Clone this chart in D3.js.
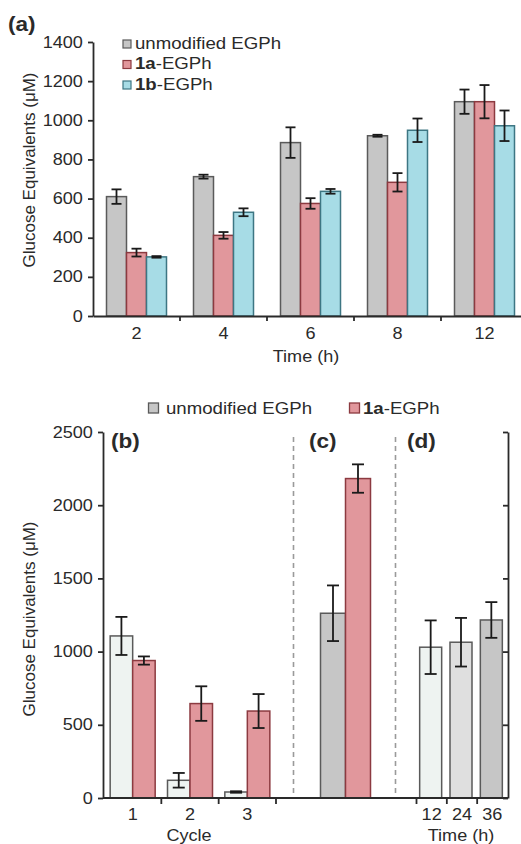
<!DOCTYPE html>
<html><head><meta charset="utf-8">
<script src="https://cdn.jsdelivr.net/npm/d3@7"></script>
<style>
body{margin:0;background:#fff;}
svg{display:block;font-family:"Liberation Sans",Arial,sans-serif;}
</style></head>
<body><svg id="c" width="521" height="844"></svg>
<script>
// ---------- data ----------
const timesA = ["2","4","6","8","12"];
const seriesA = ["unmodified EGPh","1a-EGPh","1b-EGPh"];
const unmodA = [610, 712, 886, 921, 1095];
const unmodAErr = [37, 10, 78, 5, 62];
const e1aA = [324, 412, 575, 683, 1095];
const e1aAErr = [20, 17, 27, 47, 85];
const e1bA = [302, 530, 637, 949, 972];
const e1bAErr = [4, 20, 12, 60, 78];
const yTicksA = [0,200,400,600,800,1000,1200,1400];

const cycles = ["1","2","3"];
const unmodB = [1107, 121, 41];
const unmodBErr = [130, 50, 5];
const e1aB = [939, 645, 594];
const e1aBErr = [28, 118, 116];

const groupC = ["c"];
const unmodC = [1262];
const unmodCErr = [190];
const e1aC = [2182];
const e1aCErr = [97];

const timesD = ["12","24","36"];
const unmodD = [1030, 1064, 1216];
const unmodDErr = [183, 166, 122];
const yTicksB = [0,500,1000,1500,2000,2500];

// ---------- style ----------
const SX = 1.13;
const C = {
  gray:"#c6c6c6", grayS:"#5a5a5a",
  red:"#e1979c", redS:"#8c3a40",
  blue:"#a7dce6", blueS:"#3d7683",
  light:"#eef3f1", mid:"#dfdfdf",
  axis:"#2a2a2a", text:"#2a2a2a"
};
const svg = d3.select("#c");
const fmt = d3.format("d");

function txt(g, x, y, parts, size, anchor, weight){
  const t = g.append("text")
    .attr("transform", `translate(${x},${y}) scale(${SX},1)`)
    .attr("font-size", size).attr("fill", C.text)
    .attr("text-anchor", anchor || "start");
  (Array.isArray(parts)?parts:[[parts, weight||"normal"]]).forEach(p=>{
    t.append("tspan").attr("font-weight", p[1]).text(p[0]);
  });
  return t;
}
function styleAxis(g, size){
  g.selectAll("path,line").attr("stroke", C.axis).attr("stroke-width", 1.8);
  g.selectAll("text").attr("font-size", size).attr("fill", C.text)
    .attr("font-family", '"Liberation Sans",Arial,sans-serif')
    .attr("transform", `scale(${SX},1)`);
}
function bars(g, data, x, w, y, fill, stroke){
  g.selectAll(null).data(data).enter().append("rect")
    .attr("x", d => x(d) - w/2).attr("width", w)
    .attr("y", d => y(d.v)).attr("height", d => y(0) - y(d.v))
    .attr("fill", d => d.fill || fill).attr("stroke", stroke).attr("stroke-width", 1.5);
}
function errs(g, data, x, y, cap){
  const e = g.selectAll(null).data(data).enter().append("g")
    .attr("stroke", "#1a1a1a").attr("stroke-width", 1.8);
  e.append("line").attr("x1", d=>x(d)).attr("x2", d=>x(d))
    .attr("y1", d=>y(d.v+d.e)).attr("y2", d=>y(d.v-d.e));
  e.append("line").attr("x1", d=>x(d)-cap/2).attr("x2", d=>x(d)+cap/2)
    .attr("y1", d=>y(d.v+d.e)).attr("y2", d=>y(d.v+d.e));
  e.append("line").attr("x1", d=>x(d)-cap/2).attr("x2", d=>x(d)+cap/2)
    .attr("y1", d=>y(d.v-d.e)).attr("y2", d=>y(d.v-d.e));
}

// ================= Panel (a) =================
const xA = d3.scaleBand().domain(timesA).range([93, 528]);
const xA1 = d3.scaleBand().domain(seriesA)
  .range([xA.bandwidth()/2 - 30, xA.bandwidth()/2 + 30]);
const yA = d3.scaleLinear().domain([0, 1400]).range([316, 42]);
const gA = svg.append("g");
const colsA = [[unmodA, unmodAErr, C.gray, C.grayS],[e1aA, e1aAErr, C.red, C.redS],[e1bA, e1bAErr, C.blue, C.blueS]];
colsA.forEach((c, si) => {
  const data = timesA.map((t,i)=>({t, s: seriesA[si], v: c[0][i], e: c[1][i]}));
  const cx = d => xA(d.t) + xA1(d.s) + xA1.bandwidth()/2;
  bars(gA, data, cx, xA1.bandwidth(), yA, c[2], c[3]);
  errs(gA, data, cx, yA, 10);
});
const axA = gA.append("g").attr("transform","translate(93,0)")
  .call(d3.axisLeft(yA).tickValues(yTicksA).tickFormat(fmt).tickSize(5).tickPadding(4).tickSizeOuter(0));
styleAxis(axA, 16);
const axAb = gA.append("g").attr("transform","translate(0,316)")
  .call(d3.axisBottom(xA).tickSize(0).tickPadding(12).tickSizeOuter(0));
styleAxis(axAb, 16);
gA.selectAll(null).data(timesA.slice(1)).enter().append("line")
  .attr("x1", d=>xA(d)).attr("x2", d=>xA(d)).attr("y1",316).attr("y2",321)
  .attr("stroke", C.axis).attr("stroke-width", 1.8);
txt(gA, 306, 362, "Time (h)", 16, "middle");
gA.append("text").attr("transform","translate(35,170) rotate(-90)")
  .attr("text-anchor","middle").attr("font-size",17).attr("fill",C.text)
  .text("Glucose Equivalents (μM)");
txt(gA, 8, 31, "(a)", 20, "start", "bold");
// legend (a)
const legA = [[C.gray,C.grayS,[["unmodified EGPh","normal"]]],
              [C.red,C.redS,[["1a","bold"],["-EGPh","normal"]]],
              [C.blue,C.blueS,[["1b","bold"],["-EGPh","normal"]]]];
legA.forEach((l,i)=>{
  const y = 48.5 + i*20.5;
  gA.append("rect").attr("x",123).attr("y",y-8.5).attr("width",8).attr("height",8)
    .attr("fill",l[0]).attr("stroke",l[1]).attr("stroke-width",1.2);
  txt(gA, 135, y, l[2], 16.5, "start");
});

// ================= Panels (b)(c)(d) =================
const yB = d3.scaleLinear().domain([0, 2500]).range([798, 432]);
const gB = svg.append("g");
const xLeft = 103, xRight = 508;

// (b)
const xB = d3.scaleBand().domain(cycles).range([104, 276]);
const wB = 22.5;
const dataBu = cycles.map((c,i)=>({c, v: unmodB[i], e: unmodBErr[i]}));
const dataBr = cycles.map((c,i)=>({c, v: e1aB[i], e: e1aBErr[i]}));
const cxBu = d => xB(d.c) + xB.bandwidth()/2 - wB/2;
const cxBr = d => xB(d.c) + xB.bandwidth()/2 + wB/2;
bars(gB, dataBu, cxBu, wB, yB, C.light, C.grayS);
bars(gB, dataBr, cxBr, wB, yB, C.red, C.redS);
errs(gB, dataBu, cxBu, yB, 12);
errs(gB, dataBr, cxBr, yB, 12);

// (c)
const xC = d3.scaleBand().domain(groupC).range([296, 394]);
const wC = 25;
const dataCu = groupC.map((c,i)=>({c, v: unmodC[i], e: unmodCErr[i]}));
const dataCr = groupC.map((c,i)=>({c, v: e1aC[i], e: e1aCErr[i]}));
const cxCu = d => xC(d.c) + xC.bandwidth()/2 - wC/2 + 0.5;
const cxCr = d => xC(d.c) + xC.bandwidth()/2 + wC/2 + 0.5;
bars(gB, dataCu, cxCu, wC, yB, C.gray, C.grayS);
bars(gB, dataCr, cxCr, wC, yB, C.red, C.redS);
errs(gB, dataCu, cxCu, yB, 12);
errs(gB, dataCr, cxCr, yB, 12);

// (d)
const xD = d3.scaleBand().domain(timesD).range([416.5, 507.5]);
const dFills = [C.light, C.mid, C.gray];
const dataD = timesD.map((t,i)=>({t, v: unmodD[i], e: unmodDErr[i], fill: dFills[i]}));
const cxD = d => xD(d.t) + xD.bandwidth()/2 - 1;
bars(gB, dataD, cxD, 22, yB, C.gray, C.grayS);
errs(gB, dataD, cxD, yB, 12);

// dashed separators
[293.5, 395.5].forEach(x=>{
  gB.append("line").attr("x1",x).attr("x2",x).attr("y1",437).attr("y2",797)
    .attr("stroke","#9a9a9a").attr("stroke-width",1.6).attr("stroke-dasharray","5,4");
});

// axes
const axBl = gB.append("g").attr("transform",`translate(${xLeft},0)`)
  .call(d3.axisLeft(yB).tickValues(yTicksB).tickFormat(fmt).tickSize(5).tickPadding(4).tickSizeOuter(0));
styleAxis(axBl, 16);
const axBr = gB.append("g").attr("transform",`translate(${xRight},0)`)
  .call(d3.axisLeft(yB).tickValues(yTicksB).tickFormat("").tickSize(5).tickSizeOuter(0));
axBr.selectAll(".tick line").attr("x2", -5);
styleAxis(axBr, 16);
gB.append("line").attr("x1",xLeft).attr("x2",xRight).attr("y1",798).attr("y2",798)
  .attr("stroke",C.axis).attr("stroke-width",1.8);
const axBb = gB.append("g").attr("transform","translate(0,798)")
  .call(d3.axisBottom(xB).tickSize(0).tickPadding(11).tickSizeOuter(0));
axBb.select(".domain").remove();
styleAxis(axBb, 16);
gB.selectAll(null).data(cycles.slice(1).map(c=>xB(c)).concat([xB.range()[1]])).enter().append("line")
  .attr("x1", d=>d).attr("x2", d=>d).attr("y1",798).attr("y2",804)
  .attr("stroke", C.axis).attr("stroke-width", 1.8);
const axDb = gB.append("g").attr("transform","translate(0,798)")
  .call(d3.axisBottom(xD).tickSize(0).tickPadding(11).tickSizeOuter(0));
axDb.select(".domain").remove();
styleAxis(axDb, 16);
gB.selectAll(null).data(timesD.map(t=>xD(t))).enter().append("line")
  .attr("x1", d=>d).attr("x2", d=>d).attr("y1",798).attr("y2",804)
  .attr("stroke", C.axis).attr("stroke-width", 1.8);

txt(gB, 189, 841, "Cycle", 16, "middle");
txt(gB, 461, 841, "Time (h)", 16, "middle");
gB.append("text").attr("transform","translate(35,619) rotate(-90)")
  .attr("text-anchor","middle").attr("font-size",17).attr("fill",C.text)
  .text("Glucose Equivalents (μM)");
txt(gB, 111, 448, "(b)", 20, "start", "bold");
txt(gB, 309, 448, "(c)", 20, "start", "bold");
txt(gB, 407, 448, "(d)", 20, "start", "bold");

// legend (b)
gB.append("rect").attr("x",148.5).attr("y",403).attr("width",10).attr("height",10)
  .attr("fill",C.gray).attr("stroke",C.grayS).attr("stroke-width",1.3);
txt(gB, 166, 413.5, [["unmodified EGPh","normal"]], 16.5, "start");
gB.append("rect").attr("x",349.5).attr("y",403).attr("width",10).attr("height",10)
  .attr("fill",C.red).attr("stroke",C.redS).attr("stroke-width",1.3);
txt(gB, 363, 413.5, [["1a","bold"],["-EGPh","normal"]], 16.5, "start");
</script></body></html>
